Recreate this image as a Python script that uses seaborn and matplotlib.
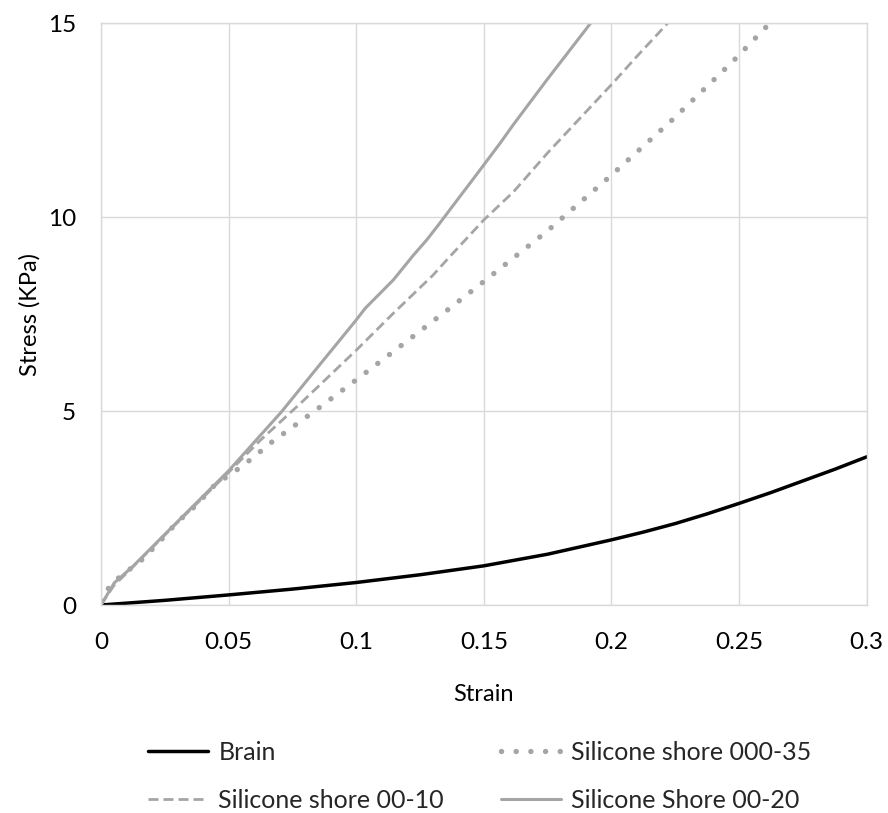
import matplotlib
matplotlib.use("Agg")
import matplotlib.pyplot as plt
from matplotlib.lines import Line2D
import seaborn as sns

# Stress-strain curves (strain, stress in KPa)
brain_strain = [0.0, 0.025, 0.05, 0.075, 0.1, 0.125, 0.15, 0.175, 0.2, 0.2125, 0.225,
                0.2375, 0.25, 0.2625, 0.275, 0.2875, 0.3]
brain_stress = [0.0, 0.12, 0.26, 0.41, 0.58, 0.78, 1.01, 1.31, 1.68, 1.88, 2.1,
                2.35, 2.62, 2.9, 3.2, 3.5, 3.82]

s000_35_strain = [0.0, 0.002, 0.006, 0.01, 0.0153, 0.0218, 0.0295, 0.0374, 0.0452, 0.0505,
                  0.0584, 0.0669, 0.0845, 0.1015, 0.119, 0.136, 0.149, 0.1746, 0.1994,
                  0.2235, 0.247, 0.262]
s000_35_stress = [0.1, 0.36, 0.65, 0.86, 1.12, 1.55, 2.11, 2.58, 3.14, 3.35,
                  3.74, 4.2, 5.04, 5.88, 6.76, 7.62, 8.29, 9.63, 11.05,
                  12.49, 13.98, 15.0]

s00_10_strain = [0.0, 0.005, 0.012, 0.028, 0.05, 0.0623, 0.0793, 0.1, 0.1145, 0.13,
                 0.1355, 0.15, 0.1617, 0.175, 0.2, 0.21, 0.222]
s00_10_stress = [0.0, 0.5, 0.95, 2.0, 3.42, 4.24, 5.27, 6.57, 7.52, 8.5,
                 8.9, 9.93, 10.66, 11.66, 13.42, 14.15, 15.0]

s00_20_strain = [0.0, 0.0052, 0.0124, 0.028, 0.05, 0.0707, 0.085, 0.1, 0.1035, 0.1145,
                 0.1224, 0.1277, 0.1322, 0.1408, 0.146, 0.1565, 0.1617, 0.1748, 0.1918]
s00_20_stress = [0.0, 0.57, 0.99, 2.02, 3.46, 4.98, 6.14, 7.35, 7.65, 8.38,
                 9.02, 9.42, 9.8, 10.55, 11.0, 11.92, 12.4, 13.55, 15.0]

x_ticks = [0, 0.05, 0.1, 0.15, 0.2, 0.25, 0.3]
x_tick_labels = ["0", "0.05", "0.1", "0.15", "0.2", "0.25", "0.3"]
y_ticks = [0, 5, 10, 15]
y_tick_labels = ["0", "5", "10", "15"]

sns.set_theme(style="white")
plt.rcParams["font.family"] = ["Lato", "DejaVu Sans"]

GRID = "#d9d9d9"
GRAY = "#a5a5a5"

fig = plt.figure(figsize=(8.88, 8.13), dpi=100)
ax = fig.add_axes([101 / 888, 1 - 605 / 813, (866.7 - 101) / 888, (605 - 23.3) / 813])

ax.grid(True, color=GRID, linewidth=1.0)
ax.set_axisbelow(True)

DOT = (0, (0.01, 2.7))
DASH = (0, (3.6, 1.8))

sns.lineplot(x=brain_strain, y=brain_stress, ax=ax, color="black", linewidth=2.5,
             estimator=None, sort=False)
sns.lineplot(x=s000_35_strain, y=s000_35_stress, ax=ax, color=GRAY, linewidth=3.9,
             linestyle=DOT, dash_capstyle="round", estimator=None, sort=False)
sns.lineplot(x=s00_10_strain, y=s00_10_stress, ax=ax, color=GRAY, linewidth=2.0,
             linestyle=DASH, dash_capstyle="butt", estimator=None, sort=False)
sns.lineplot(x=s00_20_strain, y=s00_20_stress, ax=ax, color=GRAY, linewidth=2.2,
             estimator=None, sort=False)

ax.set_xlim(0, 0.3)
ax.set_ylim(0, 15)
ax.set_xticks(x_ticks)
ax.set_xticklabels(x_tick_labels)
ax.set_yticks(y_ticks)
ax.set_yticklabels(y_tick_labels)
ax.tick_params(axis="x", length=0, pad=19.5, labelsize=17.5, labelcolor="black")
ax.tick_params(axis="y", length=0, pad=18, labelsize=17.5, labelcolor="black")

for side in ["left", "right", "top", "bottom"]:
    ax.spines[side].set_visible(True)
    ax.spines[side].set_color(GRID)
    ax.spines[side].set_linewidth(1.0)

ax.set_xlabel("Strain", fontsize=17, color="black", labelpad=22)
ax.set_ylabel("Stress (KPa)", fontsize=17, color="black", labelpad=5.5)

handles = [
    Line2D([], [], color="black", linewidth=2.5),
    Line2D([], [], color=GRAY, linewidth=2.0, linestyle=DASH),
    Line2D([], [], color=GRAY, linewidth=3.9, linestyle=DOT, dash_capstyle="round"),
    Line2D([], [], color=GRAY, linewidth=2.2),
]
labels = ["Brain", "Silicone shore 00-10", "Silicone shore 000-35", "Silicone Shore 00-20"]
fig.legend(handles, labels, ncol=2, loc="center", bbox_to_anchor=(0.5405, 0.0455),
           frameon=False, fontsize=18, handlelength=2.4, handletextpad=0.4,
           columnspacing=2.3, labelspacing=1.0)

fig.savefig("out.png", dpi=100)
